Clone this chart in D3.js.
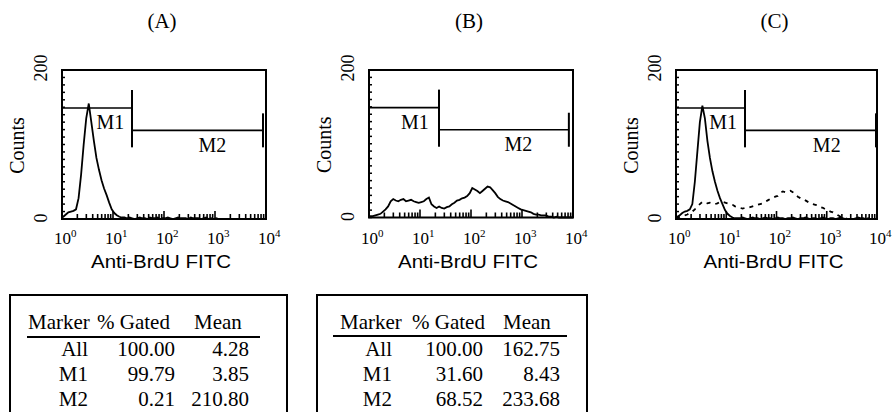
<!DOCTYPE html>
<html><head><meta charset="utf-8">
<script src="https://cdn.jsdelivr.net/npm/d3@7"></script>
<style>body{margin:0;background:#fff}svg{display:block}</style>
</head><body>
<svg id="c" width="893" height="412"></svg>
<script>
// ---------------- data ----------------
const panelTitles = ["(A)", "(B)", "(C)"];
const xTickExponents = [0, 1, 2, 3, 4];
const yTickLabels = [0, 200];
const xAxisTitle = "Anti-BrdU FITC";
const yAxisTitle = "Counts";
const binWidthLog = 0.05; // histogram channel width in decades

const countsA = [3,6,9,10,11,13,28,60,100,135,155,130,105,82,66,52,41,32,22,13,8,5,3,2,2,
  1,2,1,0,1,2,1,1,0,2,1,1,2,0,1,1,2,1,0,1,2,1,1,1,0,2,1,1,1,0,1,2,0,1,0,1,
  0,0,0,0,0,0,0,0,0,0,0,0,0,0,0,0,0,0,0];
const countsB = [2,2,3,4,5,8,11,15,22,25, 23,22,24,25,22,23,24,22,21,20,
  21,22,25,27,18,15,13,15,13,12, 14,15,18,20,23,24,26,27,29,33,
  40,38,36,33,36,39,42,41,37,33, 28,25,23,22,21,19,17,15,13,11,
  10,9,8,7,5,4,4,3,3,3, 1,1,0,1,0,0,0,0,0,0];
const countsCSolid = [3,5,8,10,11,13,20,50,90,130, 152,135,105,82,64,50,38,28,20,12,
  7,4,2,1,1,1,2,1,0,1, 2,1,1,0,1,2,1,1,0,1, 2,1,1,0,1,1,2,1,0,1,
  1,2,1,0,1,1,0,1,2,1, 0,1,1,0,1,2,1,0,0,0, 0,1,2,1,1,0,1,0,0,0];
const countsCDashed = [2,3,4,5,6,8,10,13,17,20, 23,22,21,22,21,20,21,23,23,22,
  21,20,19,17,16,15,14,15,15,16, 17,18,19,20,21,23,25,27,28,30,
  31,35,37,36,37,38,36,33,30,28, 27,25,23,21,20,19,18,16,15,13,
  12,10,9,7,5,3,2,1,0,0, 0,0,0,0,0,0,0,0,0,0];

const gateNames = ["M1", "M2"];
const gateM1Range = [1, 23.6];
const gateM2End = [8730, 8300, 9550];
const gateLevels = [149, 119];
const gateLabelLog = [[0.95, 2.95], [0.9, 2.93], [0.94, 3.0]];

const tableHeader = ["Marker", "% Gated", "Mean"];
const tableMarkers = ["All", "M1", "M2"];
const tableAGated = ["100.00", "99.79", "0.21"];
const tableAMean = ["4.28", "3.85", "210.80"];
const tableBGated = ["100.00", "31.60", "68.52"];
const tableBMean = ["162.75", "8.43", "233.68"];

// ---------------- layout ----------------
const SERIF = "'Liberation Serif','Times New Roman',serif";
const SANS = "'Liberation Sans',Arial,sans-serif";
const svg = d3.select("#c");

const panels = [
  {left: 62, right: 266, top: 70, bottom: 219, series: [{data: countsA, dash: null}]},
  {left: 369, right: 573, top: 70, bottom: 217.5, series: [{data: countsB, dash: null}]},
  {left: 676, right: 877, top: 70, bottom: 219, series: [{data: countsCDashed, dash: "4,5"}, {data: countsCSolid, dash: null}]}
];

panels.forEach((p, pi) => {
  const g = svg.append("g");
  const x = d3.scaleLog().domain([1, 1e4]).range([p.left, p.right]);
  const y = d3.scaleLinear().domain([0, 200]).range([p.bottom, p.top]);

  // bottom ticks (log minor + major), pointing inward
  const majors = xTickExponents.map(e => Math.pow(10, e));
  g.append("g").selectAll("line").data(x.ticks()).join("line")
    .attr("x1", d => x(d)).attr("x2", d => x(d))
    .attr("y1", p.bottom).attr("y2", d => p.bottom - (majors.includes(d) ? 8 : 5))
    .attr("stroke", "#000").attr("stroke-width", 1.6);

  // left ticks every 10 counts, pointing inward
  g.append("g").selectAll("line").data(y.ticks(20)).join("line")
    .attr("x1", p.left).attr("x2", p.left + 3)
    .attr("y1", d => y(d)).attr("y2", d => y(d))
    .attr("stroke", "#000").attr("stroke-width", 1.5);

  // histograms
  p.series.forEach(s => {
    const pts = [[1, s.data[0]]].concat(s.data.map((c, i) => [Math.pow(10, (i + 0.5) * binWidthLog), c]));
    pts.push([1e4, s.data[s.data.length - 1]]);
    g.append("path")
      .attr("d", d3.line().x(d => x(d[0])).y(d => y(d[1]))(pts))
      .attr("fill", "none").attr("stroke", "#000").attr("stroke-width", 1.8)
      .attr("stroke-dasharray", s.dash);
  });

  // frame
  g.append("rect").attr("x", p.left).attr("y", p.top)
    .attr("width", p.right - p.left).attr("height", p.bottom - p.top)
    .attr("fill", "none").attr("stroke", "#000").attr("stroke-width", 2);

  // gates
  const gate = (x0, x1, lvl, half) => {
    const yy = y(lvl);
    g.append("line").attr("x1", x(x0)).attr("x2", x(x1)).attr("y1", yy).attr("y2", yy)
      .attr("stroke", "#000").attr("stroke-width", 1.7);
    [x0, x1].forEach(v => g.append("line").attr("x1", x(v)).attr("x2", x(v))
      .attr("y1", yy - half).attr("y2", yy + half).attr("stroke", "#000").attr("stroke-width", 2));
  };
  gate(gateM1Range[0], gateM1Range[1], gateLevels[0], 18);
  gate(gateM1Range[1], gateM2End[pi], gateLevels[1], 17);
  gateNames.forEach((name, k) => {
    g.append("text").attr("x", x(Math.pow(10, gateLabelLog[pi][k])))
      .attr("y", y(gateLevels[k]) + 21.5)
      .attr("text-anchor", "middle").attr("font-family", SERIF).attr("font-size", 20)
      .text(name);
  });

  // x tick labels
  xTickExponents.forEach(e => {
    const t = g.append("text").attr("x", x(Math.pow(10, e)) - 8).attr("y", 244)
      .attr("font-family", SERIF).attr("font-size", 17);
    t.append("tspan").text("10");
    t.append("tspan").attr("font-size", 11).attr("dy", -7).text(e);
  });

  // y tick labels
  yTickLabels.forEach(v => {
    g.append("text").attr("transform", `translate(${p.left - 15},${y(v) - (v ? 2 : 1)}) rotate(-90)`)
      .attr("text-anchor", "middle").attr("font-family", SERIF).attr("font-size", 18).text(v);
  });

  // axis titles
  g.append("text").attr("transform", `translate(${p.left - 38},${(p.top + p.bottom) / 2 + 1}) rotate(-90)`)
    .attr("text-anchor", "middle").attr("font-family", SERIF).attr("font-size", 20).text(yAxisTitle);
  g.append("text").attr("x", (p.left + p.right) / 2 - 3).attr("y", 268)
    .attr("text-anchor", "middle").attr("font-family", SANS).attr("font-size", 18)
    .attr("textLength", 140).attr("lengthAdjust", "spacingAndGlyphs").text(xAxisTitle);

  // panel title
  g.append("text").attr("x", (p.left + p.right) / 2 - 2).attr("y", 28)
    .attr("text-anchor", "middle").attr("font-family", SERIF).attr("font-size", 21).text(panelTitles[pi]);
});

// ---------------- tables ----------------
const tables = [
  {box: [10, 287], line: [27, 260, 337], head: [28, 97, 194], cols: [88, 175, 249], gated: tableAGated, mean: tableAMean},
  {box: [317, 587], line: [333, 567, 336], head: [340, 412, 503], cols: [392, 483, 560], gated: tableBGated, mean: tableBMean}
];
const rowBaselines = [356, 381, 406];
tables.forEach(t => {
  const g = svg.append("g").attr("font-family", SERIF).attr("font-size", 21);
  g.append("rect").attr("x", t.box[0]).attr("y", 295).attr("width", t.box[1] - t.box[0]).attr("height", 140)
    .attr("fill", "none").attr("stroke", "#000").attr("stroke-width", 2);
  tableHeader.forEach((h, k) => g.append("text").attr("x", t.head[k]).attr("y", 329).text(h));
  g.append("line").attr("x1", t.line[0]).attr("x2", t.line[1]).attr("y1", t.line[2]).attr("y2", t.line[2])
    .attr("stroke", "#000").attr("stroke-width", 2);
  tableMarkers.forEach((m, r) => {
    [m, t.gated[r], t.mean[r]].forEach((v, k) => {
      g.append("text").attr("x", t.cols[k]).attr("y", rowBaselines[r]).attr("text-anchor", "end").text(v);
    });
  });
});
</script>
</body></html>
